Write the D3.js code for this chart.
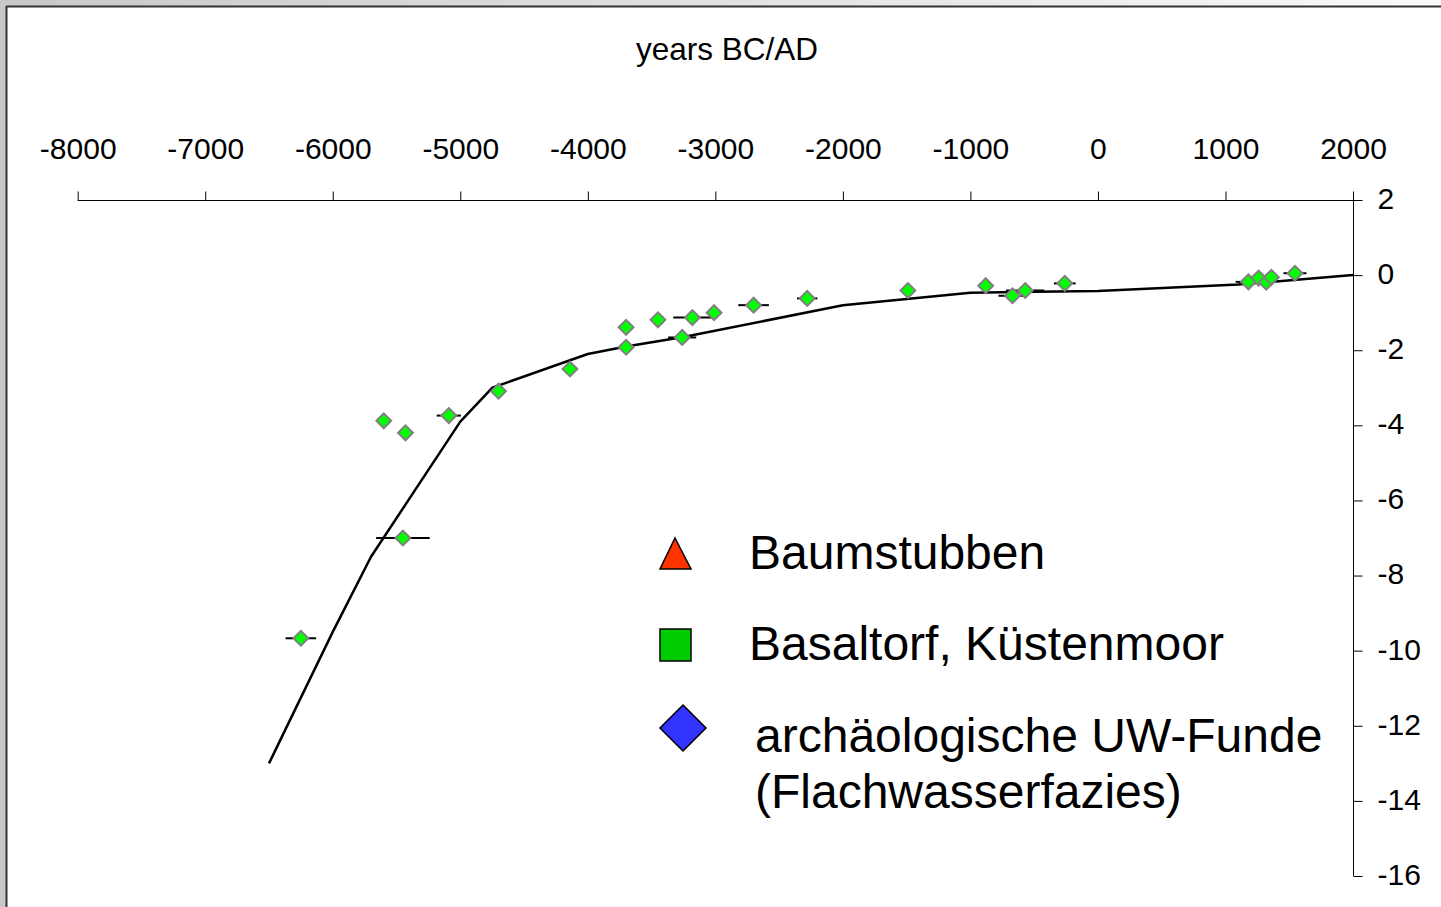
<!DOCTYPE html>
<html>
<head>
<meta charset="utf-8">
<script src="https://cdn.jsdelivr.net/npm/d3@7"></script>
<style>
  html, body { margin: 0; padding: 0; background: #c8c8c8; }
  svg { display: block; }
  text { font-family: "Liberation Sans", Arial, sans-serif; fill: #000; }
</style>
</head>
<body>
<script>
// Sea-level curve: years BC/AD against depth (m)
const curveYears = [-6500, -6000, -5700, -5000, -4750, -4000, -3700, -3250, -2000, -1000, 0, 1100, 2000];
const curveDepth = [-13.0, -9.5, -7.5, -3.9, -3.0, -2.1, -1.9, -1.65, -0.8, -0.47, -0.42, -0.25, 0.0];

// Dated samples (archaeological finds) with age uncertainty in years
const sampleYears = [-6250, -5600, -5430, -5450, -5090, -4700, -4140, -3700, -3700, -3450, -3260, -3180, -3010, -2700, -2280, -1490, -880, -670, -570, -260, 1180, 1260, 1320, 1360, 1545];
const sampleDepth = [-9.67, -3.88, -4.2, -7.0, -3.74, -3.09, -2.5, -1.39, -1.92, -1.19, -1.66, -1.13, -1.0, -0.8, -0.62, -0.41, -0.28, -0.55, -0.41, -0.22, -0.18, -0.08, -0.19, -0.06, 0.05];
const sampleErr   = [120, 0, 0, 210, 95, 0, 0, 0, 0, 0, 110, 150, 0, 120, 80, 0, 0, 110, 150, 85, 100, 0, 0, 0, 90];

const xTicks = [-8000, -7000, -6000, -5000, -4000, -3000, -2000, -1000, 0, 1000, 2000];
const yTicks = [2, 0, -2, -4, -6, -8, -10, -12, -14, -16];

const legendLabels = ["Baumstubben", "Basaltorf, Küstenmoor", "archäologische UW-Funde", "(Flachwasserfazies)"];
const legendColors = ["#ff3300", "#00cc00", "#3333ff"];

const W = 1441, H = 907;
const svg = d3.select("body").append("svg").attr("width", W).attr("height", H);

// window frame
const grad = svg.append("defs").append("linearGradient").attr("id", "frameGrad")
  .attr("x1", "0%").attr("x2", "100%").attr("y1", "0%").attr("y2", "0%");
grad.append("stop").attr("offset", "0%").attr("stop-color", "#c8c8c8");
grad.append("stop").attr("offset", "100%").attr("stop-color", "#fafafa");
svg.append("rect").attr("x", 0).attr("y", 0).attr("width", W).attr("height", 7).attr("fill", "url(#frameGrad)");
svg.append("rect").attr("x", 0).attr("y", 0).attr("width", 7).attr("height", H).attr("fill", "#c8c8c8");
svg.append("rect").attr("x", 7).attr("y", 7).attr("width", W - 7).attr("height", H - 7).attr("fill", "#fff");
svg.append("line").attr("x1", 6).attr("x2", W).attr("y1", 6.5).attr("y2", 6.5).attr("stroke", "#333").attr("stroke-width", 2);
svg.append("line").attr("x1", 6.5).attr("x2", 6.5).attr("y1", 6).attr("y2", H).attr("stroke", "#333").attr("stroke-width", 2);

const x = d3.scaleLinear().domain([-8000, 2000]).range([77.7, 1353]);
const y = d3.scaleLinear().domain([2, -16]).range([200, 876]);

const fmt = d => String(d);

// top x axis
const xAxis = d3.axisTop(x).tickValues(xTicks).tickSize(9).tickPadding(0).tickFormat(fmt);
const gx = svg.append("g").attr("transform", "translate(0,200.5)").call(xAxis);
gx.select(".domain").attr("d", `M${x(-8000)},0H${x(2000)}`).attr("stroke", "#000");
gx.selectAll(".tick line").attr("stroke", "#000");
gx.selectAll(".tick text").attr("y", -41.5).attr("dy", null).style("font-size", "30px")
  .style("font-family", "'Liberation Sans', Arial, sans-serif").attr("fill", "#000");

// right y axis
const yAxis = d3.axisRight(y).tickValues(yTicks).tickSize(9).tickPadding(0).tickFormat(fmt);
const gy = svg.append("g").attr("transform", "translate(1353.5,0)").call(yAxis);
gy.select(".domain").attr("d", `M0,${y(2)}V${y(-16)}`).attr("stroke", "#000");
gy.selectAll(".tick line").attr("stroke", "#000");
gy.selectAll(".tick text").attr("x", 24).attr("dy", "0.28em").style("font-size", "30px")
  .style("font-family", "'Liberation Sans', Arial, sans-serif").attr("text-anchor", "start").attr("fill", "#000");

// axis title
svg.append("text").attr("x", 727).attr("y", 60).attr("text-anchor", "middle")
  .style("font-size", "31.5px").text("years BC/AD");

// sea-level curve
const curve = curveYears.map((v, i) => [v, curveDepth[i]]);
svg.append("path").datum(curve)
  .attr("d", d3.line().x(d => x(d[0])).y(d => y(d[1])))
  .attr("fill", "none").attr("stroke", "#000").attr("stroke-width", 2.5).attr("stroke-linejoin", "round");

// samples
const samples = sampleYears.map((v, i) => ({ yr: v, d: sampleDepth[i], e: sampleErr[i] }));
svg.append("g").selectAll("line").data(samples.filter(s => s.e > 0)).join("line")
  .attr("x1", s => x(s.yr - s.e)).attr("x2", s => x(s.yr + s.e))
  .attr("y1", s => y(s.d)).attr("y2", s => y(s.d))
  .attr("stroke", "#000").attr("stroke-width", 2);

const diamond = d3.symbol().type(d3.symbolSquare).size(110);
svg.append("g").selectAll("path").data(samples).join("path")
  .attr("d", diamond)
  .attr("transform", s => `translate(${x(s.yr)},${y(s.d)}) rotate(45)`)
  .attr("fill", "#00ff00").attr("stroke", "#808080").attr("stroke-width", 2);

// legend
const lg = svg.append("g");
lg.append("path").attr("d", "M675,538L691,569L660,569Z")
  .attr("fill", legendColors[0]).attr("stroke", "#000").attr("stroke-width", 1.5);
lg.append("rect").attr("x", 660).attr("y", 629).attr("width", 31).attr("height", 32)
  .attr("fill", legendColors[1]).attr("stroke", "#000").attr("stroke-width", 1.5);
lg.append("path").attr("d", "M683,705L706,728L683,751L660,728Z")
  .attr("fill", legendColors[2]).attr("stroke", "#000").attr("stroke-width", 1.5);

const legendPos = [[749, 569], [749, 660], [755, 752], [755, 808]];
lg.selectAll("text.leg").data(legendLabels).join("text").attr("class", "leg")
  .attr("x", (d, i) => legendPos[i][0]).attr("y", (d, i) => legendPos[i][1])
  .style("font-size", "48px").text(d => d);
</script>
</body>
</html>
